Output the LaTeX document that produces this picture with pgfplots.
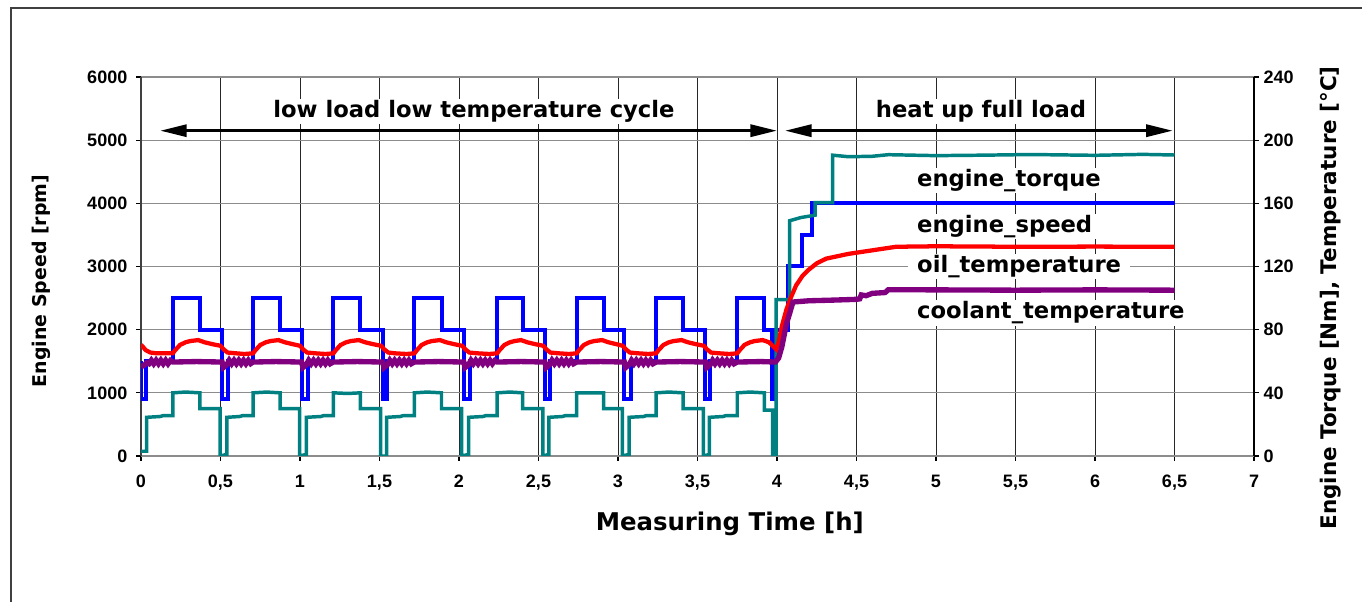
\documentclass[border=0pt]{standalone}
\usepackage{fontspec}
\setmainfont{DejaVu Sans}
\newfontfamily\tickfam{Liberation Sans}
\usepackage{pgfplots}
\usepackage{pgfplotstable}
\pgfplotsset{compat=1.18}
\usetikzlibrary{arrows.meta}
\definecolor{cblue}{RGB}{0,0,255}
\definecolor{cteal}{RGB}{0,128,128}
\definecolor{cred}{RGB}{255,0,0}
\definecolor{cpurple}{RGB}{128,0,128}
\newcommand\tickf{\tickfam\fontsize{13.5}{15}\selectfont\bfseries}
\newcommand\lblf{\fontsize{17}{20}\selectfont\bfseries}

% engine speed [rpm]
\pgfplotstableread{
t v
0 1500
0 900
0.03 900
0.03 1500
0.20 1500
0.20 2500
0.37 2500
0.37 2000
0.51 2000
0.51 900
0.55 900
0.55 1500
0.705 1500
0.705 2500
0.875 2500
0.875 2000
1.01 2000
1.01 900
1.05 900
1.05 1500
1.21 1500
1.21 2500
1.38 2500
1.38 2000
1.52 2000
1.52 900
1.55 900
1.55 1500
1.72 1500
1.72 2500
1.89 2500
1.89 2000
2.03 2000
2.03 900
2.07 900
2.07 1500
2.24 1500
2.24 2500
2.40 2500
2.40 2000
2.54 2000
2.54 900
2.57 900
2.57 1500
2.74 1500
2.74 2500
2.91 2500
2.91 2000
3.04 2000
3.04 900
3.08 900
3.08 1500
3.24 1500
3.24 2500
3.41 2500
3.41 2000
3.55 2000
3.55 900
3.58 900
3.58 1500
3.75 1500
3.75 2500
3.92 2500
3.92 2000
3.97 2000
3.97 900
3.985 900
3.985 2000
4.07 2000
4.07 3000
4.16 3000
4.16 3500
4.22 3500
4.22 4000
6.5 4000
}\speed

% engine torque [Nm]
\pgfplotstableread{
t v
0 3
0.035 3
0.035 24.5
0.12 25
0.14 25.6
0.20 25.5
0.20 40
0.28 40.5
0.37 40
0.37 30
0.497 30
0.497 0
0.54 1
0.54 24.5
0.62 25
0.64 25.6
0.705 25.5
0.705 40
0.79 40.5
0.875 40
0.875 30
0.997 30
0.997 0
1.04 1
1.04 24.5
1.13 25
1.15 25.6
1.21 25.5
1.21 40
1.30 39.6
1.38 40
1.38 30
1.507 30
1.507 0
1.545 0
1.545 24.5
1.63 25
1.65 25.6
1.72 25.5
1.72 40
1.80 40.5
1.89 40
1.89 30
2.017 30
2.017 0
2.06 1
2.06 24.5
2.15 25
2.17 25.6
2.24 25.5
2.24 40
2.32 40.5
2.40 40
2.40 30
2.527 30
2.527 0
2.565 1
2.565 24.5
2.65 25
2.67 25.6
2.74 25.5
2.74 40
2.82 40
2.91 40
2.91 30
3.027 30
3.027 0
3.07 1
3.07 24.5
3.16 25
3.18 25.6
3.24 25.5
3.24 40
3.32 40.5
3.41 40
3.41 30
3.537 30
3.537 0
3.575 1
3.575 24.5
3.66 25
3.68 25.6
3.75 25.5
3.75 40
3.83 40.5
3.92 40
3.92 29
3.972 29
3.972 0
3.995 0
3.995 99
4.08 99
4.08 149
4.15 151
4.24 152.5
4.24 160.5
4.35 160.5
4.35 190.5
4.45 189.5
4.6 189.8
4.7 190.8
5.0 190.2
5.3 190.5
5.6 190.9
6.0 190.4
6.3 191
6.5 190.6
}\torque

% oil temperature [C]
\pgfplotstableread{
t v
0 70.5
0.03 67
0.06 65.5
0.1 65
0.2 65
0.215 67
0.245 70.3
0.28 72
0.31 72.8
0.36 73.4
0.40 72
0.45 70.8
0.50 69.8
0.52 67.5
0.545 65.5
0.6 65
0.65 64.6
0.705 65
0.72 67
0.75 70.3
0.785 72
0.815 72.8
0.865 73.4
0.905 72
0.955 70.8
1.0 69.8
1.02 67.5
1.045 65.5
1.1 65
1.16 64.6
1.21 65
1.225 67
1.255 70.3
1.29 72
1.32 72.8
1.37 73.4
1.41 72
1.46 70.8
1.51 69.8
1.53 67.5
1.555 65.5
1.6 65
1.67 64.6
1.72 65
1.735 67
1.765 70.3
1.80 72
1.83 72.8
1.88 73.4
1.92 72
1.97 70.8
2.02 69.8
2.04 67.5
2.065 65.5
2.12 65
2.19 64.6
2.24 65
2.255 67
2.285 70.3
2.32 72
2.35 72.8
2.39 73.4
2.43 72
2.48 70.8
2.53 69.8
2.55 67.5
2.575 65.5
2.63 65
2.69 64.6
2.74 65
2.755 67
2.785 70.3
2.82 72
2.85 72.8
2.90 73.4
2.94 72
2.99 70.8
3.03 69.8
3.05 67.5
3.075 65.5
3.13 65
3.19 64.6
3.24 65
3.255 67
3.285 70.3
3.32 72
3.35 72.8
3.40 73.4
3.44 72
3.49 70.8
3.54 69.8
3.56 67.5
3.585 65.5
3.64 65
3.70 64.6
3.75 65
3.765 67
3.795 70.3
3.83 72
3.86 72.8
3.91 73.4
3.95 72
3.98 69
3.995 67.5
4.01 72
4.03 82
4.06 93
4.09 101
4.12 108
4.16 114
4.2 118
4.25 122
4.31 125
4.38 126.5
4.45 128
4.55 129.5
4.65 131
4.75 132.5
5.0 132.8
5.5 132.5
6.0 132.6
6.5 132.5
}\oil

% coolant temperature [C]
\pgfplotstableread{
t v
0 56.5
0.02 57.5
0.035 59
0.05 58.4
0.065 60.6
0.08 58.4
0.095 60.6
0.11 58.4
0.125 60.6
0.14 58.4
0.155 60.6
0.17 58.4
0.185 60.5
0.20 59.5
0.35 59.8
0.51 59.5
0.518 56
0.54 57.8
0.555 60.6
0.57 58.4
0.585 60.6
0.60 58.4
0.615 60.6
0.63 58.4
0.645 60.6
0.66 58.4
0.675 60.6
0.69 58.5
0.705 59.5
0.85 59.8
1.01 59.5
1.018 56
1.04 57.8
1.055 60.6
1.07 58.4
1.085 60.6
1.10 58.4
1.115 60.6
1.13 58.4
1.145 60.6
1.16 58.4
1.175 60.6
1.19 58.4
1.21 59.5
1.36 59.8
1.52 59.5
1.528 56
1.55 57.8
1.565 60.6
1.58 58.4
1.595 60.6
1.61 58.4
1.625 60.6
1.64 58.4
1.655 60.6
1.67 58.4
1.685 60.6
1.70 58.4
1.72 59.5
1.87 59.8
2.03 59.5
2.038 56
2.06 57.8
2.075 60.6
2.09 58.4
2.105 60.6
2.12 58.4
2.135 60.6
2.15 58.4
2.165 60.6
2.18 58.4
2.195 60.6
2.21 58.4
2.225 60.4
2.24 59.5
2.39 59.8
2.54 59.5
2.548 56
2.57 57.8
2.585 60.6
2.60 58.4
2.615 60.6
2.63 58.4
2.645 60.6
2.66 58.4
2.675 60.6
2.69 58.4
2.705 60.6
2.72 58.4
2.74 59.5
2.89 59.8
3.04 59.5
3.048 56
3.07 57.8
3.085 60.6
3.10 58.4
3.115 60.6
3.13 58.4
3.145 60.6
3.16 58.4
3.175 60.6
3.19 58.4
3.205 60.6
3.22 58.4
3.24 59.5
3.39 59.8
3.55 59.5
3.558 56
3.58 57.8
3.595 60.6
3.61 58.4
3.625 60.6
3.64 58.4
3.655 60.6
3.67 58.4
3.685 60.6
3.70 58.4
3.715 60.6
3.73 58.4
3.75 59.5
3.90 59.8
3.99 59.5
4.01 62
4.03 69
4.06 84
4.08 90.5
4.10 97.5
4.2 98.3
4.35 98.7
4.5 99.2
4.52 99.5
4.53 102
4.56 101.5
4.6 103
4.68 103.5
4.70 105.3
5.0 105.2
5.5 105
6.0 105.2
6.5 105
}\coolant

\begin{document}
\begin{tikzpicture}
\useasboundingbox (-105.75pt,-109.5pt) rectangle (915.75pt,342pt);
\draw[black!75, line width=1.1pt] (-97.5pt,-115pt) -- (-97.5pt,336pt) -- (925pt,336pt);
\begin{axis}[
  at={(0,0)}, anchor=south west, scale only axis,
  width=834.75pt, height=284.25pt,
  xmin=0, xmax=7, ymin=0, ymax=6000,
  xtick={0,0.5,1,1.5,2,2.5,3,3.5,4,4.5,5,5.5,6,6.5,7},
  ytick={0,1000,2000,3000,4000,5000,6000},
  axis x line=bottom, axis y line=left,
  x axis line style={-, draw=black!45, line width=1.5pt},
  y axis line style={-, draw=black!75, line width=1.2pt},
  tick align=outside, major tick length=3.75pt,
  tick style={black, line width=0.8pt},
  grid=major,
  major x grid style={black!85, line width=0.7pt},
  major y grid style={black!45, line width=1pt},
  /pgf/number format/assume math mode=true,
  /pgf/number format/use comma,
  /pgf/number format/1000 sep={},
  ticklabel style={font=\tickf},
  xticklabel style={yshift=-7pt},
  yticklabel style={xshift=-3pt},
  xlabel={Measuring Time [h]},
  ylabel={Engine Speed [rpm]},
  every axis x label/.style={at={(axis description cs:0.529,-0.179)},anchor=center,font=\fontsize{18.3}{21}\selectfont\bfseries},
  every axis y label/.style={at={(axis description cs:-0.0898,0.4617)},rotate=90,anchor=center,font=\fontsize{14.2}{17}\selectfont\bfseries},
]
\node[fill=white, inner xsep=4pt, inner ysep=1pt, font=\lblf] at (axis cs:2.094,5450) {low load low temperature cycle};
\node[fill=white, inner xsep=4pt, inner ysep=1pt, font=\lblf] at (axis cs:5.283,5450) {heat up full load};
\draw[line width=2.4pt, {Triangle[length=20pt,width=9pt]}-{Triangle[length=20pt,width=9pt]}] (axis cs:0.12,5150) -- (axis cs:4.0,5150);
\draw[line width=2.4pt, {Triangle[length=20pt,width=9pt]}-{Triangle[length=20pt,width=9pt]}] (axis cs:4.05,5150) -- (axis cs:6.49,5150);
\node[fill=white, inner xsep=7pt, inner ysep=1pt, anchor=west, xshift=-7pt, font=\lblf] at (axis cs:4.88,4367) {engine\_torque};
\node[fill=white, inner xsep=7pt, inner ysep=1pt, anchor=west, xshift=-7pt, font=\lblf] at (axis cs:4.88,3628) {engine\_speed};
\node[fill=white, inner xsep=7pt, inner ysep=1pt, anchor=west, xshift=-7pt, font=\lblf] at (axis cs:4.88,2995) {oil\_temperature};
\node[fill=white, inner xsep=7pt, inner ysep=1pt, anchor=west, xshift=-7pt, font=\lblf] at (axis cs:4.88,2263) {coolant\_temperature};
\addplot[cblue, line width=3pt] table[x=t, y=v] {\speed};
\end{axis}
\begin{axis}[
  at={(0,0)}, anchor=south west, scale only axis,
  width=834.75pt, height=284.25pt,
  xmin=0, xmax=7, ymin=0, ymax=240,
  ytick={0,40,80,120,160,200,240},
  axis x line=none, axis y line=right,
  y axis line style={-, draw=black, line width=1.1pt},
  tick align=outside, major tick length=3.75pt,
  tick style={black, line width=0.8pt},
  /pgf/number format/assume math mode=true,
  ticklabel style={font=\tickf},
  ylabel={Engine Torque [Nm], Temperature [°C]},
  every axis y label/.style={at={(axis description cs:1.069,0.417)},rotate=90,anchor=center,font=\fontsize{16.1}{19}\selectfont\bfseries},
]
\addplot[cteal, line width=2.6pt] table[x=t, y=v] {\torque};
\addplot[cred, line width=3.2pt] table[x=t, y=v] {\oil};
\addplot[cpurple, line width=4pt] table[x=t, y=v] {\coolant};
\end{axis}
\end{tikzpicture}
\end{document}
